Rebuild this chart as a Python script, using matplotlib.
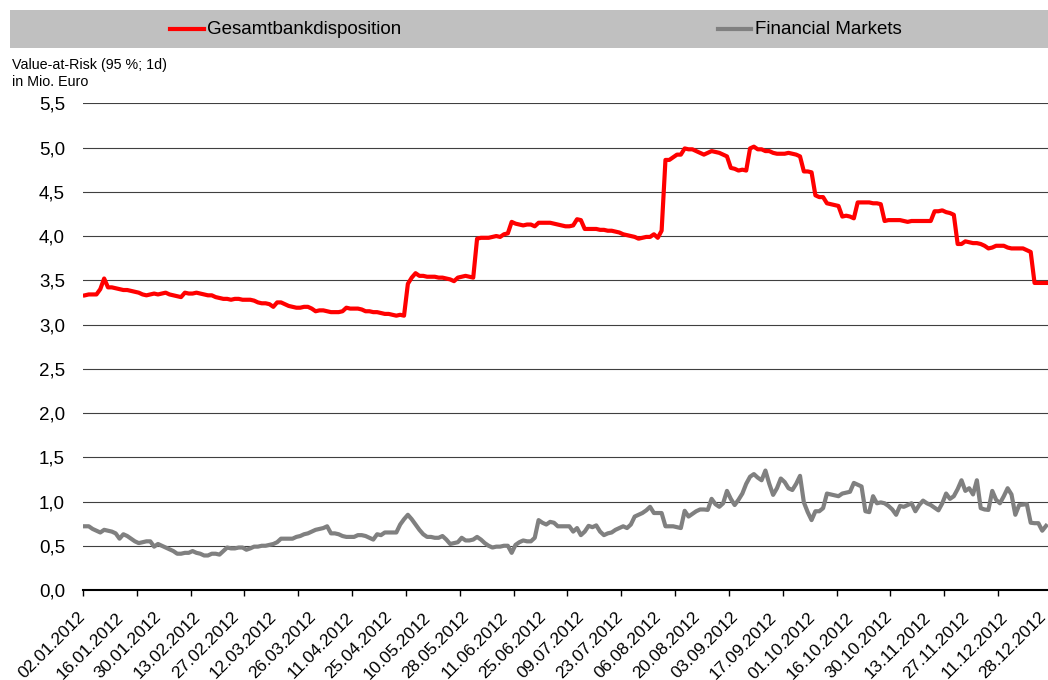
import matplotlib
matplotlib.use('Agg')
import matplotlib.pyplot as plt
from matplotlib.lines import Line2D
from matplotlib.patches import Rectangle
from matplotlib.transforms import ScaledTranslation

plt.rcParams['font.family'] = ['Liberation Sans', 'DejaVu Sans']

# Handelstage 2012, Beschriftung an jedem 10. Tag
tick_dates = ['02.01.2012', '16.01.2012', '30.01.2012', '13.02.2012', '27.02.2012',
              '12.03.2012', '26.03.2012', '11.04.2012', '25.04.2012', '10.05.2012',
              '28.05.2012', '11.06.2012', '25.06.2012', '09.07.2012', '23.07.2012',
              '06.08.2012', '20.08.2012', '03.09.2012', '17.09.2012', '01.10.2012',
              '16.10.2012', '30.10.2012', '13.11.2012', '27.11.2012', '11.12.2012',
              '28.12.2012']

# VaR Gesamtbankdisposition (Mio. Euro)
gesamtbank = [
    3.33, 3.34, 3.34, 3.34, 3.40, 3.52, 3.42, 3.42, 3.41, 3.40,
    3.39, 3.39, 3.38, 3.37, 3.36, 3.34, 3.33, 3.34, 3.35, 3.34,
    3.35, 3.36, 3.34, 3.33, 3.32, 3.31, 3.36, 3.35, 3.35, 3.36,
    3.35, 3.34, 3.33, 3.33, 3.31, 3.30, 3.29, 3.29, 3.28, 3.29,
    3.29, 3.28, 3.28, 3.28, 3.27, 3.25, 3.24, 3.24, 3.23, 3.20,
    3.25, 3.25, 3.23, 3.21, 3.20, 3.19, 3.19, 3.20, 3.20, 3.18,
    3.15, 3.16, 3.16, 3.15, 3.14, 3.14, 3.14, 3.15, 3.19, 3.18,
    3.18, 3.18, 3.17, 3.15, 3.15, 3.14, 3.14, 3.13, 3.12, 3.12,
    3.11, 3.10, 3.11, 3.10, 3.46, 3.53, 3.58, 3.55, 3.55, 3.54,
    3.54, 3.54, 3.53, 3.53, 3.52, 3.51, 3.49, 3.53, 3.54, 3.55,
    3.54, 3.53, 3.97, 3.98, 3.98, 3.98, 3.99, 4.00, 3.99, 4.02,
    4.03, 4.16, 4.14, 4.13, 4.12, 4.13, 4.13, 4.11, 4.15, 4.15,
    4.15, 4.15, 4.14, 4.13, 4.12, 4.11, 4.11, 4.12, 4.19, 4.18,
    4.08, 4.08, 4.08, 4.08, 4.07, 4.07, 4.06, 4.06, 4.05, 4.04,
    4.02, 4.01, 4.00, 3.99, 3.97, 3.98, 3.99, 3.99, 4.02, 3.98,
    4.06, 4.86, 4.86, 4.89, 4.92, 4.92, 4.99, 4.98, 4.98, 4.96,
    4.94, 4.92, 4.94, 4.96, 4.95, 4.94, 4.92, 4.90, 4.77, 4.76,
    4.74, 4.75, 4.74, 4.99, 5.01, 4.98, 4.98, 4.96, 4.96, 4.94,
    4.93, 4.93, 4.93, 4.94, 4.93, 4.92, 4.90, 4.73, 4.73, 4.72,
    4.46, 4.44, 4.44, 4.37, 4.36, 4.35, 4.34, 4.22, 4.23, 4.22,
    4.20, 4.38, 4.38, 4.38, 4.38, 4.37, 4.37, 4.36, 4.17, 4.18,
    4.18, 4.18, 4.18, 4.17, 4.16, 4.17, 4.17, 4.17, 4.17, 4.17,
    4.17, 4.28, 4.28, 4.29, 4.27, 4.26, 4.24, 3.91, 3.91, 3.94,
    3.93, 3.92, 3.92, 3.91, 3.89, 3.86, 3.87, 3.89, 3.89, 3.89,
    3.87, 3.86, 3.86, 3.86, 3.86, 3.84, 3.82, 3.47, 3.47, 3.47,
    3.47]

# VaR Financial Markets (Mio. Euro)
financial_markets = [
    0.72, 0.72, 0.69, 0.67, 0.65, 0.68, 0.67, 0.66, 0.64, 0.58,
    0.63, 0.61, 0.58, 0.55, 0.53, 0.54, 0.55, 0.55, 0.49, 0.52,
    0.50, 0.48, 0.46, 0.44, 0.41, 0.41, 0.42, 0.42, 0.44, 0.42,
    0.41, 0.39, 0.39, 0.41, 0.41, 0.40, 0.44, 0.48, 0.47, 0.47,
    0.48, 0.48, 0.455, 0.47, 0.49, 0.49, 0.50, 0.50, 0.51, 0.52,
    0.54, 0.58, 0.58, 0.58, 0.58, 0.60, 0.61, 0.63, 0.64, 0.66,
    0.68, 0.69, 0.70, 0.72, 0.64, 0.64, 0.63, 0.61, 0.60, 0.60,
    0.60, 0.62, 0.62, 0.61, 0.59, 0.57, 0.63, 0.62, 0.65, 0.65,
    0.65, 0.65, 0.74, 0.80, 0.85, 0.80, 0.74, 0.68, 0.63, 0.60,
    0.60, 0.59, 0.59, 0.61, 0.57, 0.52, 0.53, 0.54, 0.59, 0.56,
    0.56, 0.57, 0.60, 0.57, 0.53, 0.50, 0.48, 0.49, 0.49, 0.50,
    0.50, 0.42, 0.51, 0.54, 0.56, 0.55, 0.55, 0.59, 0.79, 0.76,
    0.74, 0.77, 0.76, 0.72, 0.72, 0.72, 0.72, 0.66, 0.70, 0.62,
    0.66, 0.725, 0.71, 0.73, 0.66, 0.62, 0.64, 0.65, 0.68, 0.70,
    0.72, 0.70, 0.74, 0.83, 0.85, 0.87, 0.90, 0.94, 0.87, 0.87,
    0.87, 0.72, 0.72, 0.72, 0.71, 0.70, 0.895, 0.83, 0.86, 0.89,
    0.91, 0.91, 0.905, 1.03, 0.97, 0.94, 0.98, 1.12, 1.03, 0.96,
    1.02, 1.09, 1.20, 1.28, 1.31, 1.27, 1.24, 1.35, 1.20, 1.075,
    1.15, 1.26, 1.22, 1.15, 1.13, 1.20, 1.29, 0.99, 0.88, 0.79,
    0.89, 0.89, 0.925, 1.09, 1.08, 1.07, 1.06, 1.09, 1.10, 1.11,
    1.21, 1.19, 1.17, 0.89, 0.88, 1.06, 0.98, 0.99, 0.98, 0.95,
    0.91, 0.85, 0.95, 0.94, 0.96, 0.98, 0.89, 0.96, 1.01, 0.98,
    0.96, 0.93, 0.90, 0.98, 1.09, 1.03, 1.06, 1.14, 1.24, 1.12,
    1.15, 1.08, 1.24, 0.925, 0.91, 0.905, 1.12, 1.02, 0.98, 1.06,
    1.15, 1.08, 0.85, 0.96, 0.965, 0.97, 0.76, 0.755, 0.755, 0.67,
    0.725]

W, H = 1048, 680
fig = plt.figure(figsize=(W / 100, H / 100), dpi=100)

# Legendenband oben
fig.patches.append(Rectangle((10 / W, 1 - 48 / H), 1038 / W, 38 / H,
                             transform=fig.transFigure, facecolor='#c0c0c0',
                             edgecolor='none', zorder=0))
ly = 1 - 29 / H
fig.lines.append(Line2D([170 / W, 204 / W], [ly, ly], transform=fig.transFigure,
                        color='#ff0000', lw=3))
fig.text(207 / W, ly, 'Gesamtbankdisposition', fontsize=13.5, va='center', ha='left')
fig.lines.append(Line2D([718 / W, 751 / W], [ly, ly], transform=fig.transFigure,
                        color='#808080', lw=3))
fig.text(755 / W, ly, 'Financial Markets', fontsize=13.5, va='center', ha='left')

fig.text(12 / W, 1 - 65 / H, 'Value-at-Risk (95 %; 1d)', fontsize=10.3, va='center')
fig.text(12 / W, 1 - 82 / H, 'in Mio. Euro', fontsize=10.3, va='center')

ax = fig.add_axes([83 / W, 90 / H, 965 / W, 486.7 / H])
x = list(range(len(gesamtbank)))
ax.plot(x, financial_markets, color='#808080', lw=3, zorder=3)
ax.plot(x, gesamtbank, color='#ff0000', lw=3, zorder=4)

ax.set_ylim(0, 5.5)
ax.set_xlim(-0.5, len(gesamtbank) - 0.5)
yt = [i * 0.5 for i in range(12)]
ax.set_yticks(yt)
ax.set_yticklabels([f'{v:.1f}'.replace('.', ',') for v in yt], fontsize=13.5)
ax.tick_params(axis='y', length=0, pad=13)
for v in yt[1:]:
    ax.axhline(v, color='#404040', lw=0.8, zorder=1)

ax.set_xticks(list(range(0, 10 * len(tick_dates), 10)))
ax.set_xticklabels(tick_dates, rotation=45, ha='right', rotation_mode='anchor',
                   fontsize=12.5)
ax.tick_params(axis='x', length=0, pad=14)
shift = ScaledTranslation(-0.08, 0.0, fig.dpi_scale_trans)
for lab in ax.get_xticklabels():
    lab.set_transform(lab.get_transform() + shift)
ax.set_xticks([k - 0.5 for k in range(0, len(gesamtbank), 14)], minor=True)
ax.tick_params(axis='x', which='minor', length=4, width=1, color='black')

for s in ['top', 'right', 'left']:
    ax.spines[s].set_visible(False)
ax.spines['bottom'].set_linewidth(1.5)
ax.spines['bottom'].set_zorder(5)

fig.savefig('out.png', dpi=100)
